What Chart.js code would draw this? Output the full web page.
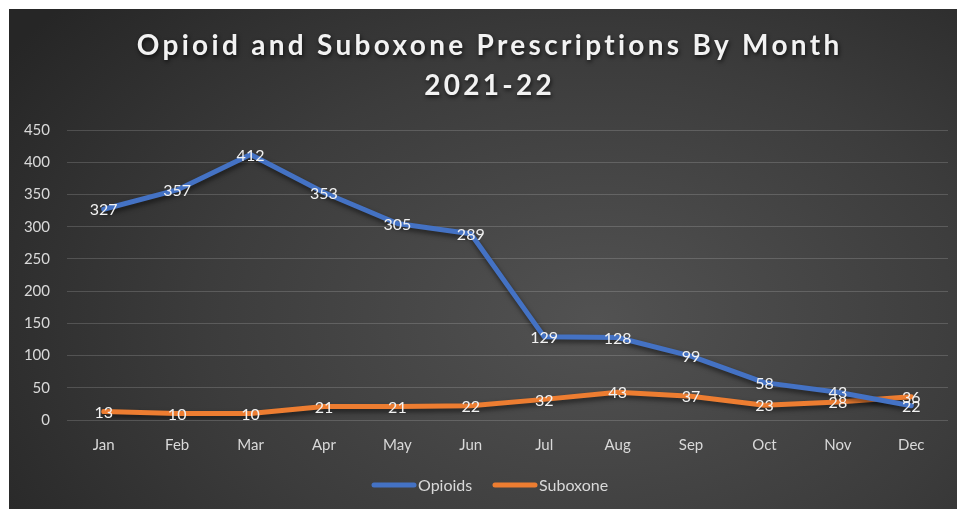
<!DOCTYPE html>
<html>
<head>
<meta charset="utf-8">
<script src="https://cdn.jsdelivr.net/npm/chart.js@4"></script>
<style>
  html, body { margin: 0; padding: 0; background: #ffffff; }
  #wrap {
    position: absolute; left: 9px; top: 9px; width: 948px; height: 500px;
    background: radial-gradient(ellipse 75% 95% at 62% 62%, #525252 0%, #3c3c3c 55%, #262626 100%);
  }
  canvas { display: block; }
</style>
</head>
<body>
<div id="wrap"><canvas id="c" width="948" height="500"></canvas></div>
<script>
const titleLines = ['Opioid and Suboxone Prescriptions By Month', '2021-22'];
const months = ['Jan','Feb','Mar','Apr','May','Jun','Jul','Aug','Sep','Oct','Nov','Dec'];
const opioids = [327, 357, 412, 353, 305, 289, 129, 128, 99, 58, 43, 22];
const suboxone = [13, 10, 10, 21, 21, 22, 32, 43, 37, 23, 28, 36];
const seriesNames = ['Opioids', 'Suboxone'];
const yTicks = { min: 0, max: 450, step: 50 };

const FONT = 'Lato, "Open Sans", sans-serif';
const TEXT = '#d9d9d9';

const bgShadowPlugin = {
  id: 'lineShadow',
  beforeDatasetDraw(chart) {
    const ctx = chart.ctx;
    ctx.save();
    ctx.shadowColor = 'rgba(0,0,0,0.55)';
    ctx.shadowBlur = 5;
    ctx.shadowOffsetX = 1;
    ctx.shadowOffsetY = 3;
  },
  afterDatasetDraw(chart) { chart.ctx.restore(); }
};

const labelPlugin = {
  id: 'valueLabels',
  afterDatasetsDraw(chart) {
    const ctx = chart.ctx;
    ctx.save();
    ctx.font = '16px ' + FONT;
    ctx.fillStyle = '#f2f2f2';
    ctx.textAlign = 'center';
    ctx.textBaseline = 'middle';
    chart.data.datasets.forEach((ds, i) => {
      chart.getDatasetMeta(i).data.forEach((pt, j) => {
        ctx.fillText(String(ds.data[j]), pt.x, pt.y + 1);
      });
    });
    ctx.restore();
  }
};

const titleLegendPlugin = {
  id: 'titleLegend',
  afterDraw(chart) {
    const ctx = chart.ctx;
    ctx.save();
    // title
    ctx.font = 'bold 28px ' + FONT;
    ctx.fillStyle = '#f2f2f2';
    ctx.textAlign = 'center';
    ctx.textBaseline = 'middle';
    ctx.shadowColor = 'rgba(0,0,0,0.7)';
    ctx.shadowBlur = 4;
    ctx.shadowOffsetX = 1;
    ctx.shadowOffsetY = 2;
    const ys = [37, 77];
    const base = ctx.measureText(titleLines[0]).width;
    const ls = Math.max(0, (703 - base) / (titleLines[0].length - 1));
    if ('letterSpacing' in ctx) ctx.letterSpacing = ls.toFixed(2) + 'px';
    titleLines.forEach((t, i) => ctx.fillText(t, 479 + ls / 2, ys[i]));
    if ('letterSpacing' in ctx) ctx.letterSpacing = '0px';
    ctx.shadowColor = 'transparent';
    // legend
    const items = [
      { name: seriesNames[0], color: '#4472c4', x0: 363 },
      { name: seriesNames[1], color: '#ed7d31', x0: 484 }
    ];
    ctx.font = '16px ' + FONT;
    ctx.textAlign = 'left';
    ctx.lineCap = 'round';
    ctx.lineWidth = 5;
    items.forEach(it => {
      ctx.strokeStyle = it.color;
      ctx.beginPath();
      ctx.moveTo(it.x0 + 2, 476);
      ctx.lineTo(it.x0 + 42, 476);
      ctx.stroke();
      ctx.fillStyle = TEXT;
      ctx.fillText(it.name, it.x0 + 46, 477);
    });
    ctx.restore();
  }
};

new Chart(document.getElementById('c'), {
  type: 'line',
  data: {
    labels: months,
    datasets: [
      { label: seriesNames[0], data: opioids, borderColor: '#4472c4', backgroundColor: '#4472c4',
        borderWidth: 5, pointRadius: 0, pointHoverRadius: 0, tension: 0, borderCapStyle: 'round', borderJoinStyle: 'round' },
      { label: seriesNames[1], data: suboxone, borderColor: '#ed7d31', backgroundColor: '#ed7d31',
        borderWidth: 5, pointRadius: 0, pointHoverRadius: 0, tension: 0, borderCapStyle: 'round', borderJoinStyle: 'round' }
    ]
  },
  options: {
    responsive: false,
    animation: false,
    events: [],
    layout: { padding: { top: 121, right: 9, bottom: 39, left: 0 } },
    plugins: { legend: { display: false }, title: { display: false }, tooltip: { enabled: false } },
    scales: {
      x: {
        offset: true,
        grid: { display: false, drawTicks: false },
        border: { display: false },
        ticks: { color: TEXT, font: { family: FONT, size: 15 }, padding: 16, maxRotation: 0 },
        afterFit(s) { s.height = 50; }
      },
      y: {
        min: yTicks.min, max: yTicks.max,
        grid: { color: 'rgba(255,255,255,0.16)', lineWidth: 1, drawTicks: false },
        border: { display: false },
        ticks: { stepSize: yTicks.step, color: TEXT, font: { family: FONT, size: 15 }, padding: 17 },
        afterFit(s) { s.width = 58; }
      }
    }
  },
  plugins: [bgShadowPlugin, labelPlugin, titleLegendPlugin]
});
</script>
</body>
</html>
